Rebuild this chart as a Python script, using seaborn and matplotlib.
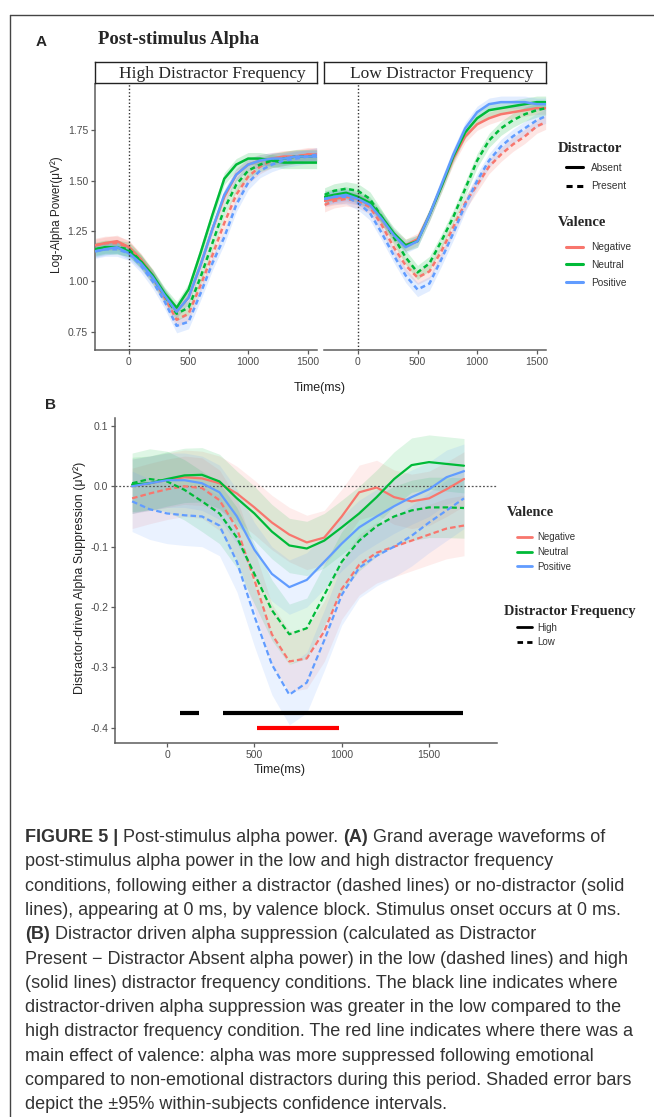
import numpy as np
import pandas as pd
import matplotlib
matplotlib.use("Agg")
import matplotlib.pyplot as plt
import seaborn as sns
from matplotlib.lines import Line2D

# === DATOS PANEL A (potencia alfa log) ===
time_a = [-280, -200, -100, 0, 100, 200, 300, 400, 500, 600, 700, 800, 900,
          1000, 1100, 1200, 1300, 1400, 1500, 1575]

# alta frecuencia de distractor
hi_neg_abs = [1.18, 1.19, 1.20, 1.17, 1.11, 1.03, 0.93, 0.85, 0.92, 1.08, 1.26, 1.42, 1.53, 1.58, 1.60, 1.61, 1.62, 1.62, 1.63, 1.63]
hi_neu_abs = [1.16, 1.17, 1.17, 1.15, 1.10, 1.03, 0.94, 0.87, 0.96, 1.14, 1.33, 1.51, 1.58, 1.61, 1.61, 1.60, 1.59, 1.59, 1.59, 1.59]
hi_pos_abs = [1.15, 1.16, 1.17, 1.14, 1.09, 1.02, 0.93, 0.85, 0.92, 1.08, 1.26, 1.43, 1.53, 1.58, 1.60, 1.61, 1.61, 1.62, 1.62, 1.62]
hi_neg_pre = [1.18, 1.19, 1.19, 1.17, 1.10, 1.02, 0.92, 0.81, 0.84, 0.98, 1.13, 1.29, 1.43, 1.52, 1.57, 1.60, 1.61, 1.62, 1.63, 1.63]
hi_neu_pre = [1.16, 1.17, 1.17, 1.16, 1.10, 1.02, 0.93, 0.84, 0.87, 1.02, 1.19, 1.36, 1.48, 1.55, 1.58, 1.60, 1.61, 1.62, 1.62, 1.62]
hi_pos_pre = [1.15, 1.16, 1.16, 1.14, 1.08, 1.00, 0.90, 0.78, 0.80, 0.94, 1.09, 1.22, 1.38, 1.49, 1.55, 1.58, 1.60, 1.61, 1.62, 1.63]

# baja frecuencia de distractor
lo_neg_abs = [1.40, 1.41, 1.42, 1.41, 1.38, 1.31, 1.23, 1.18, 1.21, 1.33, 1.47, 1.61, 1.72, 1.78, 1.81, 1.83, 1.84, 1.85, 1.86, 1.86]
lo_neu_abs = [1.42, 1.43, 1.44, 1.42, 1.39, 1.32, 1.24, 1.18, 1.20, 1.33, 1.47, 1.62, 1.74, 1.81, 1.85, 1.86, 1.87, 1.88, 1.89, 1.89]
lo_pos_abs = [1.41, 1.42, 1.43, 1.41, 1.38, 1.31, 1.23, 1.17, 1.20, 1.33, 1.48, 1.63, 1.76, 1.84, 1.88, 1.89, 1.89, 1.89, 1.88, 1.88]
lo_neg_pre = [1.38, 1.40, 1.41, 1.40, 1.37, 1.28, 1.17, 1.08, 1.02, 1.05, 1.15, 1.27, 1.39, 1.48, 1.57, 1.63, 1.68, 1.72, 1.77, 1.79]
lo_neu_pre = [1.43, 1.45, 1.46, 1.45, 1.41, 1.32, 1.22, 1.12, 1.045, 1.09, 1.20, 1.32, 1.46, 1.60, 1.70, 1.76, 1.80, 1.83, 1.85, 1.86]
lo_pos_pre = [1.41, 1.42, 1.42, 1.39, 1.34, 1.24, 1.13, 1.03, 0.96, 0.99, 1.11, 1.24, 1.38, 1.50, 1.60, 1.67, 1.72, 1.76, 1.80, 1.82]

ci_a = {"Absent": 0.03, "Present": 0.035}

# === DATOS PANEL B (supresion alfa) ===
time_b = [-200, -100, 0, 100, 200, 300, 400, 500, 600, 700, 800, 900, 1000,
          1100, 1200, 1300, 1400, 1500, 1600, 1700]
b_hi_neg = [0.0, 0.005, 0.01, 0.015, 0.013, 0.005, -0.012, -0.035, -0.06, -0.08, -0.093, -0.085, -0.05, -0.01, -0.002, -0.018, -0.025, -0.02, -0.005, 0.012]
b_hi_neu = [0.003, 0.005, 0.012, 0.018, 0.019, 0.008, -0.02, -0.045, -0.075, -0.098, -0.103, -0.09, -0.068, -0.045, -0.018, 0.012, 0.035, 0.04, 0.037, 0.034]
b_hi_pos = [0.0, 0.005, 0.01, 0.01, 0.005, -0.01, -0.05, -0.105, -0.145, -0.167, -0.155, -0.125, -0.095, -0.068, -0.05, -0.033, -0.018, -0.005, 0.015, 0.025]
b_lo_neg = [-0.02, -0.012, -0.005, 0.0, -0.003, -0.023, -0.07, -0.155, -0.245, -0.29, -0.285, -0.24, -0.17, -0.13, -0.11, -0.1, -0.09, -0.08, -0.07, -0.065]
b_lo_neu = [0.005, 0.012, 0.008, -0.006, -0.025, -0.045, -0.085, -0.145, -0.205, -0.245, -0.235, -0.18, -0.125, -0.09, -0.066, -0.05, -0.04, -0.035, -0.035, -0.036]
b_lo_pos = [-0.025, -0.038, -0.045, -0.048, -0.05, -0.065, -0.125, -0.215, -0.295, -0.345, -0.325, -0.255, -0.18, -0.135, -0.115, -0.1, -0.082, -0.06, -0.04, -0.02]

ci_b = {"High": 0.045, "Low": 0.05}

# periodos significativos (ms)
sig_black_start = [75, 320]
sig_black_end = [185, 1695]
sig_black_y = -0.375
sig_red_start = [515]
sig_red_end = [985]
sig_red_y = -0.40

valences = ["Negative", "Neutral", "Positive"]
distractors = ["Absent", "Present"]
freqs_b = ["High", "Low"]
facets = ["High Distractor Frequency", "Low Distractor Frequency"]
palette = {"Negative": "#F8766D", "Neutral": "#00BA38", "Positive": "#619CFF"}

series_a = {
    (facets[0], "Negative", "Absent"): hi_neg_abs,
    (facets[0], "Neutral", "Absent"): hi_neu_abs,
    (facets[0], "Positive", "Absent"): hi_pos_abs,
    (facets[0], "Negative", "Present"): hi_neg_pre,
    (facets[0], "Neutral", "Present"): hi_neu_pre,
    (facets[0], "Positive", "Present"): hi_pos_pre,
    (facets[1], "Negative", "Absent"): lo_neg_abs,
    (facets[1], "Neutral", "Absent"): lo_neu_abs,
    (facets[1], "Positive", "Absent"): lo_pos_abs,
    (facets[1], "Negative", "Present"): lo_neg_pre,
    (facets[1], "Neutral", "Present"): lo_neu_pre,
    (facets[1], "Positive", "Present"): lo_pos_pre,
}
df_a = pd.concat([pd.DataFrame({"time": time_a, "power": v, "facet": f,
                                "valence": val, "distractor": d})
                  for (f, val, d), v in series_a.items()], ignore_index=True)

series_b = {
    ("Negative", "High"): b_hi_neg, ("Neutral", "High"): b_hi_neu, ("Positive", "High"): b_hi_pos,
    ("Negative", "Low"): b_lo_neg, ("Neutral", "Low"): b_lo_neu, ("Positive", "Low"): b_lo_pos,
}
df_b = pd.concat([pd.DataFrame({"time": time_b, "supp": v, "valence": val, "freq": fr})
                  for (val, fr), v in series_b.items()], ignore_index=True)

# === ESTILO ===
sns.set_style("ticks")
plt.rcParams["font.family"] = ["Liberation Sans", "DejaVu Sans"]
SERIF = ["Liberation Serif", "DejaVu Serif"]
AX_COL = "#5c5c5c"
TICK_COL = "#4d4d4d"

W, H = 654, 1117
fig = plt.figure(figsize=(W / 100, H / 100), dpi=100)


def fx(x):
    return x / W


def fy(y):
    return 1 - y / H


def box(x0, y0, x1, y1):
    return fig.add_axes([fx(x0), fy(y1), (x1 - x0) / W, (y1 - y0) / H])


def style_axes(ax, left=True):
    sns.despine(ax=ax, left=not left)
    for s in ["left", "bottom"]:
        ax.spines[s].set_color(AX_COL)
        ax.spines[s].set_linewidth(1.1)
    ax.tick_params(color=AX_COL, labelcolor=TICK_COL, labelsize=7.5,
                   length=3, width=0.9, pad=2)
    if not left:
        ax.tick_params(left=False, labelleft=False)
    ax.set_xlabel("")
    ax.set_ylabel("")
    ax.patch.set_alpha(0)


# marco de la figura
fig.add_artist(Line2D([fx(10), 1], [fy(15), fy(15)], color="#444444", lw=1))
fig.add_artist(Line2D([fx(10), fx(10)], [fy(15), 0], color="#444444", lw=1))

# === PANEL A ===
fig.text(fx(36), fy(42), "A", fontsize=11, fontweight="bold", va="center")
fig.text(fx(98), fy(40), "Post-stimulus Alpha", family=SERIF, fontsize=13.5,
         fontweight="bold", va="center")

ax_hi = box(95, 84, 317, 350)
ax_lo = box(324, 84, 546, 350)
for ax, facet, (x0, x1) in zip([ax_hi, ax_lo], facets, [(95, 317), (324, 546)]):
    sub = df_a[df_a["facet"] == facet]
    for (val, dis), g in sub.groupby(["valence", "distractor"]):
        h = ci_a[dis]
        ax.fill_between(g["time"], g["power"] - h, g["power"] + h,
                        color=palette[val], alpha=0.18, lw=0, zorder=1)
    sns.lineplot(data=sub, x="time", y="power", hue="valence", style="distractor",
                 hue_order=valences, style_order=distractors, palette=palette,
                 dashes={"Absent": "", "Present": (2, 1.4)}, linewidth=1.8,
                 legend=False, errorbar=None, ax=ax, zorder=3)
    ax.axvline(0, color="#333333", lw=1, ls=(0, (1, 1.5)), zorder=4)
    ax.set_xlim(-285, 1578)
    ax.set_ylim(0.66, 1.98)
    ax.set_xticks([0, 500, 1000, 1500])
    ax.set_yticks([0.75, 1.0, 1.25, 1.5, 1.75])
    ax.set_yticklabels([f"{v:.2f}" for v in [0.75, 1.0, 1.25, 1.5, 1.75]])
    style_axes(ax, left=(ax is ax_hi))

    strip = box(x0, 62, x1, 83)
    strip.set_xticks([])
    strip.set_yticks([])
    for sp in strip.spines.values():
        sp.set_visible(True)
        sp.set_color("#222222")
        sp.set_linewidth(1)
    strip.text(0.53, 0.45, facet, ha="center", va="center", family=SERIF,
               fontsize=12.5, transform=strip.transAxes)

fig.text(fx(57), fy(215), "Log-Alpha Power(μV²)", rotation=90, ha="center",
         va="center", fontsize=8.5, color="#222222")
fig.text(fx(320), fy(388), "Time(ms)", ha="center", va="center", fontsize=9,
         color="#222222")

# leyendas A
fig.text(fx(558), fy(148), "Distractor", family=SERIF, fontsize=10.5,
         fontweight="bold", va="center")
fig.legend(handles=[Line2D([], [], color="black", lw=2.2),
                    Line2D([], [], color="black", lw=2.2, ls=(0, (2, 1.5)))],
           labels=distractors, loc="center left",
           bbox_to_anchor=(fx(566), fy(177)), frameon=False, fontsize=7.3,
           handlelength=1.7, handletextpad=0.8, labelspacing=0.8,
           borderpad=0, borderaxespad=0, labelcolor="#333333")
fig.text(fx(558), fy(222), "Valence", family=SERIF, fontsize=10.5,
         fontweight="bold", va="center")
fig.legend(handles=[Line2D([], [], color=palette[v], lw=2.2) for v in valences],
           labels=valences, loc="center left",
           bbox_to_anchor=(fx(566), fy(265)), frameon=False, fontsize=7.3,
           handlelength=1.7, handletextpad=0.8, labelspacing=0.75,
           borderpad=0, borderaxespad=0, labelcolor="#333333")

# === PANEL B ===
fig.text(fx(45), fy(405), "B", fontsize=11, fontweight="bold", va="center")
ax_b = box(115, 418, 497, 743)
for (val, fr), g in df_b.groupby(["valence", "freq"]):
    h = ci_b[fr]
    ax_b.fill_between(g["time"], g["supp"] - h, g["supp"] + h,
                      color=palette[val], alpha=0.13, lw=0, zorder=1)
sns.lineplot(data=df_b, x="time", y="supp", hue="valence", style="freq",
             hue_order=valences, style_order=freqs_b, palette=palette,
             dashes={"High": "", "Low": (2.5, 1.4)}, linewidth=1.6,
             legend=False, errorbar=None, ax=ax_b, zorder=3)
ax_b.axhline(0, color="#555555", lw=0.9, ls=(0, (1.5, 1.5)), zorder=2)
ax_b.hlines([sig_black_y] * len(sig_black_start), sig_black_start, sig_black_end,
            color="black", lw=3, zorder=5)
ax_b.hlines([sig_red_y] * len(sig_red_start), sig_red_start, sig_red_end,
            color="#ff0000", lw=3, zorder=5)
ax_b.set_xlim(-298, 1889)
ax_b.set_ylim(-0.425, 0.113)
ax_b.set_xticks([0, 500, 1000, 1500])
b_yt = [0.1, 0.0, -0.1, -0.2, -0.3, -0.4]
ax_b.set_yticks(b_yt)
ax_b.set_yticklabels([f"{v:.1f}" for v in b_yt])
style_axes(ax_b)

fig.text(fx(80), fy(578), "Distractor-driven Alpha Suppression (μV²)", rotation=90,
         ha="center", va="center", fontsize=9, color="#222222")
fig.text(fx(280), fy(770), "Time(ms)", ha="center", va="center", fontsize=9,
         color="#222222")

fig.text(fx(507), fy(512), "Valence", family=SERIF, fontsize=10.3,
         fontweight="bold", va="center")
fig.legend(handles=[Line2D([], [], color=palette[v], lw=2) for v in valences],
           labels=valences, loc="center left",
           bbox_to_anchor=(fx(517), fy(552)), frameon=False, fontsize=7,
           handlelength=1.5, handletextpad=0.6, labelspacing=0.5,
           borderpad=0, borderaxespad=0, labelcolor="#333333")
fig.text(fx(504), fy(612), "Distractor Frequency", family=SERIF, fontsize=10.3,
         fontweight="bold", va="center")
fig.legend(handles=[Line2D([], [], color="black", lw=2),
                    Line2D([], [], color="black", lw=2, ls=(0, (2, 1.5)))],
           labels=freqs_b, loc="center left",
           bbox_to_anchor=(fx(517), fy(635)), frameon=False, fontsize=7,
           handlelength=1.5, handletextpad=0.6, labelspacing=0.5,
           borderpad=0, borderaxespad=0, labelcolor="#333333")

# === LEYENDA DE LA FIGURA ===
cap_ax = fig.add_axes([0, 0, 1, 1])
cap_ax.axis("off")

caption = [
    [("FIGURE 5 |", True), ("Post-stimulus alpha power.", False), ("(A)", True),
     ("Grand average waveforms of", False)],
    [("post-stimulus alpha power in the low and high distractor frequency", False)],
    [("conditions, following either a distractor (dashed lines) or no-distractor (solid", False)],
    [("lines), appearing at 0 ms, by valence block. Stimulus onset occurs at 0 ms.", False)],
    [("(B)", True), ("Distractor driven alpha suppression (calculated as Distractor", False)],
    [("Present − Distractor Absent alpha power) in the low (dashed lines) and high", False)],
    [("(solid lines) distractor frequency conditions. The black line indicates where", False)],
    [("distractor-driven alpha suppression was greater in the low compared to the", False)],
    [("high distractor frequency condition. The red line indicates where there was a", False)],
    [("main effect of valence: alpha was more suppressed following emotional", False)],
    [("compared to non-emotional distractors during this period. Shaded error bars", False)],
    [("depict the ±95% within-subjects confidence intervals.", False)],
]

CAP_SIZE = 13
for i, parts in enumerate(caption):
    y = 842 + i * 24.3
    prev = None
    for txt, bold in parts:
        kw = dict(fontsize=CAP_SIZE, color="#333333",
                  fontweight="bold" if bold else "normal")
        if prev is None:
            prev = cap_ax.text(fx(25), fy(y), txt, ha="left", va="baseline",
                               transform=fig.transFigure, **kw)
        else:
            prev = cap_ax.annotate(txt, xy=(1, 0), xycoords=prev,
                                   xytext=(CAP_SIZE * 0.28, 0),
                                   textcoords="offset points",
                                   ha="left", va="bottom", **kw)

fig.savefig("out.png", dpi=100)
